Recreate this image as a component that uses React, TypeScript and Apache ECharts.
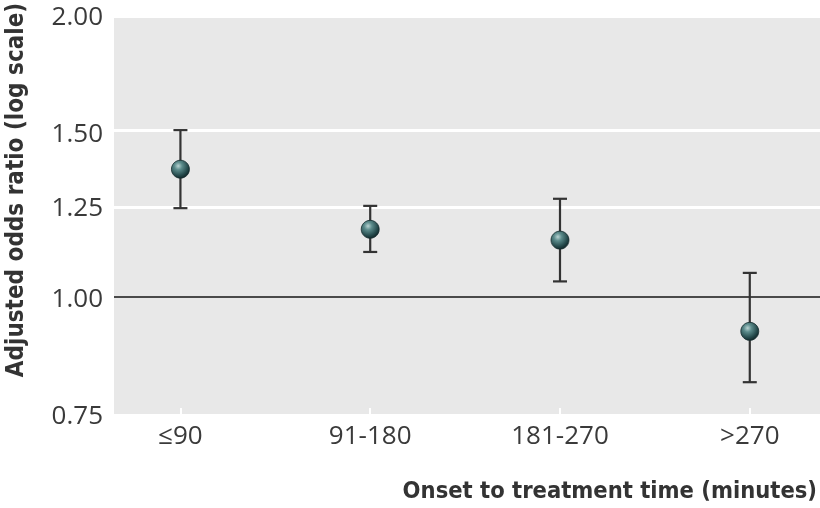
import React, { useEffect, useRef } from "react";
import * as echarts from "echarts";

const categories = ["≤90", "91-180", "181-270", ">270"];
const oddsRatio = [1.369, 1.181, 1.15, 0.919];
const ciLower = [1.244, 1.117, 1.039, 0.811];
const ciUpper = [1.507, 1.251, 1.273, 1.061];
const yTicks = [0.75, 1.0, 1.25, 1.5, 2.0];
const gridLines = [1.25, 1.5, 2.0];
const referenceLine = 1.0;

const ln = Math.log;

export default function App() {
  const ref = useRef<HTMLDivElement>(null);
  useEffect(() => {
    if (!ref.current) return;
    const chart = echarts.init(ref.current, null, { renderer: "svg" });
    const tickFont = "'Open Sans', 'Noto Sans', sans-serif";
    const titleFont = "'DejaVu Sans Condensed', 'Open Sans', sans-serif";
    const points = oddsRatio.map((v, i) => [i + 1, ln(v)]);
    const bars = oddsRatio.map((_, i) => [i + 1, ln(ciLower[i]), ln(ciUpper[i])]);
    const sphere = new echarts.graphic.RadialGradient(0.38, 0.32, 0.72, [
      { offset: 0, color: "#b9d3d2" },
      { offset: 0.3, color: "#5c8c8c" },
      { offset: 0.75, color: "#24494b" },
      { offset: 1, color: "#102628" },
    ]);
    chart.setOption({
      animation: false,
      grid: {
        left: 114,
        right: 0,
        top: 15,
        bottom: 94,
        show: true,
        backgroundColor: "#e8e8e8",
        borderWidth: 0,
      },
      xAxis: {
        type: "value",
        min: 0.65,
        max: 4.37,
        axisLine: { show: false, onZero: false },
        splitLine: { show: false },
        axisTick: {
          show: true,
          inside: true,
          length: 6,
          customValues: [1, 2, 3, 4],
          lineStyle: { color: "#ffffff", width: 2 },
        },
        axisLabel: {
          customValues: [1, 2, 3, 4],
          formatter: (v: number) => categories[Math.round(v) - 1] ?? "",
          fontFamily: tickFont,
          fontSize: 26,
          lineHeight: 24,
          color: "#3a3a3a",
          margin: 8,
        },
      },
      yAxis: {
        type: "value",
        min: ln(0.75),
        max: ln(2),
        axisLine: { show: false },
        splitLine: { show: false },
        axisTick: { show: false },
        axisLabel: {
          customValues: yTicks.map((t) => ln(t)),
          formatter: (v: number) => {
            let best = yTicks[0];
            yTicks.forEach((t) => {
              if (Math.abs(ln(t) - v) < Math.abs(ln(best) - v)) best = t;
            });
            return best.toFixed(2);
          },
          fontFamily: tickFont,
          fontSize: 26,
          lineHeight: 22,
          color: "#3a3a3a",
          margin: 11,
        },
      },
      series: [
        {
          type: "line",
          data: [],
          silent: true,
          z: 1,
          markLine: {
            silent: true,
            z: 1,
            symbol: "none",
            label: { show: false },
            data: [
              ...gridLines.map((g) => ({
                yAxis: ln(g),
                lineStyle: { color: "#ffffff", width: 3, type: "solid" },
              })),
              {
                yAxis: ln(referenceLine),
                lineStyle: { color: "#4a4a4a", width: 2, type: "solid" },
              },
            ],
          },
        },
        {
          type: "custom",
          z: 3,
          data: bars,
          renderItem: (params: any, api: any) => {
            const x = api.value(0);
            const lo = api.coord([x, api.value(1)]);
            const hi = api.coord([x, api.value(2)]);
            const half = 7;
            const style = { stroke: "#333333", lineWidth: 2.2, fill: "none" };
            return {
              type: "group",
              children: [
                { type: "line", shape: { x1: lo[0], y1: lo[1], x2: hi[0], y2: hi[1] }, style },
                { type: "line", shape: { x1: lo[0] - half, y1: lo[1], x2: lo[0] + half, y2: lo[1] }, style },
                { type: "line", shape: { x1: hi[0] - half, y1: hi[1], x2: hi[0] + half, y2: hi[1] }, style },
              ],
            };
          },
        },
        {
          type: "scatter",
          z: 4,
          data: points,
          symbol: "circle",
          symbolSize: 18,
          itemStyle: {
            color: sphere,
            borderColor: "#142b2d",
            borderWidth: 0.8,
            opacity: 1,
          },
        },
      ],
      graphic: [
        {
          type: "text",
          x: 15,
          y: 190,
          rotation: Math.PI / 2,
          style: {
            text: "Adjusted odds ratio (log scale)",
            font: `bold 24px ${titleFont}`,
            fill: "#333333",
            textAlign: "center",
            textVerticalAlign: "middle",
          },
        },
        {
          type: "text",
          x: 817,
          y: 490,
          style: {
            text: "Onset to treatment time (minutes)",
            font: `bold 23.5px ${titleFont}`,
            fill: "#333333",
            textAlign: "right",
            textVerticalAlign: "middle",
          },
        },
      ],
    });
    return () => chart.dispose();
  }, []);
  return (
    <div
      ref={ref}
      style={{ position: "fixed", left: 0, top: 0, width: 820, height: 508 }}
    />
  );
}
